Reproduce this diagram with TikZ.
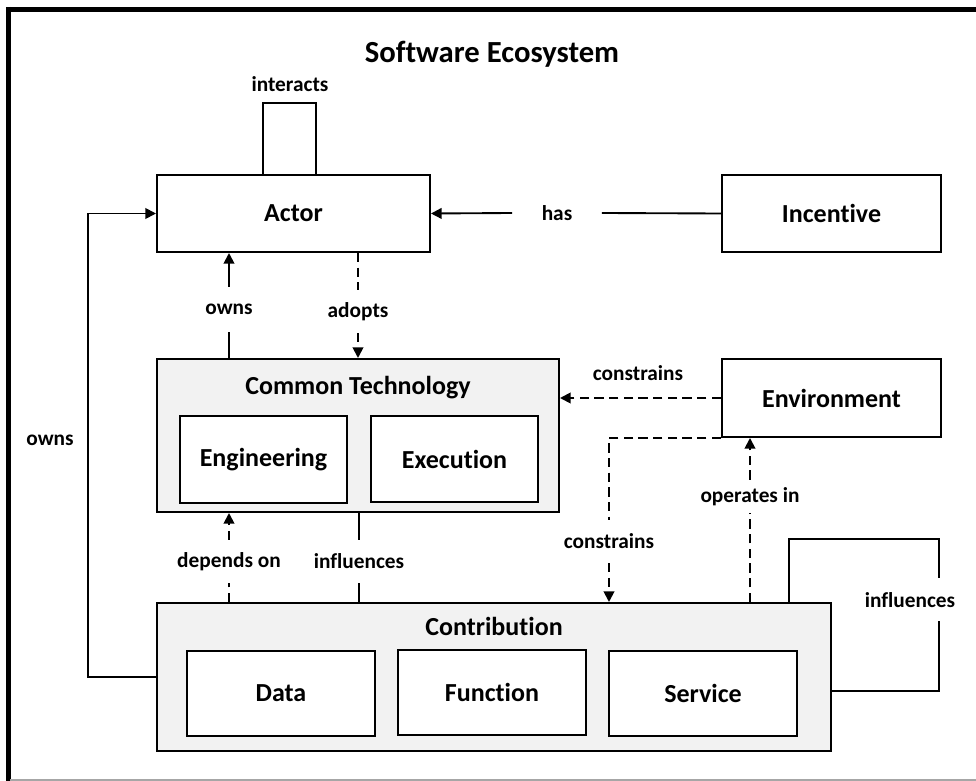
\documentclass[tikz,border=0pt]{standalone}
\usepackage{fontspec}
\setmainfont{Carlito}[Ligatures=NoCommon,RawFeature=-liga]
\usetikzlibrary{arrows.meta}
\definecolor{contfill}{HTML}{F2F2F2}
\newcommand{\boxfnt}{\bfseries\fontsize{19.5}{23}\selectfont}
\newcommand{\lblfnt}{\bfseries\fontsize{16}{19}\selectfont}
\newcommand{\titlefnt}{\bfseries\fontsize{23}{27}\selectfont}
\begin{document}
\begin{tikzpicture}[x=0.75pt,y=-0.75pt,
  box/.style={draw, line width=1.5pt, fill=white, inner sep=0pt, font=\boxfnt},
  cont/.style={draw, line width=1.5pt, fill=contfill, inner sep=0pt},
  ctitle/.style={font=\boxfnt, inner sep=0pt},
  lbl/.style={font=\lblfnt, inner sep=0pt},
  conn/.style={line width=1.4pt},
  arr/.style={conn, -{Triangle[length=8pt,width=8pt]}},
  dsh/.style={dash pattern=on 7pt off 4pt}]
\useasboundingbox (0,0) rectangle (976,781);
% frame
\draw[line width=3.75pt] (6,9.5) -- (976,9.5);
\draw[line width=3.75pt] (8.5,7) -- (8.5,781);
\draw[black!35, line width=1.5pt] (10,779.5) -- (976,779.5);
% title
\node[font=\titlefnt] (title) at (492,54) {Software Ecosystem};
% boxes
\node[box, minimum width=204.75pt, minimum height=57.75pt] (actor) at (293.5,213.5) {Actor};
\node[box, minimum width=164.25pt, minimum height=57.75pt] (incentive) at (831.5,213.5) {Incentive};
\node[box, minimum width=164.25pt, minimum height=58.5pt] (env) at (831.5,398) {Environment};
\node[cont, minimum width=301.5pt, minimum height=114.75pt] (ct) at (358,435.5) {};
\node[ctitle] (cttitle) at (358,388) {Common Technology};
\node[box, minimum width=125.25pt, minimum height=65.25pt] (eng) at (263.5,459.5) {Engineering};
\node[box, minimum width=125.25pt, minimum height=64.5pt] (exe) at (454.5,459) {Execution};
\node[cont, minimum width=505.5pt, minimum height=111pt] (contrib) at (494,677) {};
\node[ctitle] (contribtitle) at (494,626) {Contribution};
\node[box, minimum width=141pt, minimum height=63.75pt] (data) at (281,693.5) {Data};
\node[box, minimum width=141pt, minimum height=63.75pt] (func) at (492,692.5) {Function};
\node[box, minimum width=141pt, minimum height=63.75pt] (serv) at (703,693.5) {Service};
% labels
\node[lbl] (interacts) at (290,84) {interacts};
\node[lbl, minimum width=66.75pt] (has) at (557,213) {has};
\node[lbl, minimum height=33.75pt] (ownsA) at (229,309.5) {owns};
\node[lbl, minimum height=32pt] (adopts) at (358,311.5) {adopts};
\node[lbl] (cons1) at (638,373) {constrains};
\node[lbl, minimum height=32pt] (cons2) at (609,541.5) {constrains};
\node[lbl, minimum height=24.75pt] (opin) at (750,496.5) {operates in};
\node[lbl, minimum height=32pt] (dep) at (229,561.5) {depends on};
\node[lbl, minimum height=32pt] (infl) at (359,561.5) {influences};
\node[lbl] (inflR) at (910,600) {influences};
\node[lbl] (ownsB) at (50,440) {owns};
% helper coordinates
\coordinate (lp1) at (263,103);
\coordinate (lp2) at (316,103);
\coordinate (ol) at (88,677);
\coordinate (r1) at (789,539);
\coordinate (r2) at (939,539);
\coordinate (r3) at (939,578);
\coordinate (r4) at (939,621);
\coordinate (r5) at (939,691);
% connectors
\draw[conn] (lp1 |- actor.north) -- (lp1) -- (lp2) -- (lp2 |- actor.north);
\draw[conn] (incentive.west) -- (has.east);
\draw[arr] (has.west) -- (actor.east);
\draw[conn] (ownsA.south |- ct.north) -- (ownsA.south);
\draw[arr] (ownsA.north) -- (ownsA.north |- actor.south);
\draw[conn,dsh] (adopts.north |- actor.south) -- (adopts.north);
\draw[arr,dsh] (adopts.south) -- (adopts.south |- ct.north);
\draw[arr] (contrib.west) -- (ol) -- (ol |- actor.west) -- (actor.west);
\draw[arr,dsh] (env.west) -- (env.west -| ct.east);
\draw[conn,dsh] (env.south west) -- (env.south west -| cons2.north) -- (cons2.north);
\draw[arr,dsh] (cons2.south) -- (cons2.south |- contrib.north);
\draw[conn,dsh] (opin.south |- contrib.north) -- (opin.south);
\draw[arr,dsh] (opin.north) -- (opin.north |- env.south);
\draw[conn,dsh] (dep.south |- contrib.north) -- (dep.south);
\draw[arr,dsh] (dep.north) -- (dep.north |- ct.south);
\draw[conn] (infl.north |- ct.south) -- (infl.north);
\draw[conn] (infl.south) -- (infl.south |- contrib.north);
\draw[conn] (r1 |- contrib.north) -- (r1) -- (r2) -- (r3);
\draw[conn] (r4) -- (r5) -- (r5 -| contrib.east);
\end{tikzpicture}
\end{document}
